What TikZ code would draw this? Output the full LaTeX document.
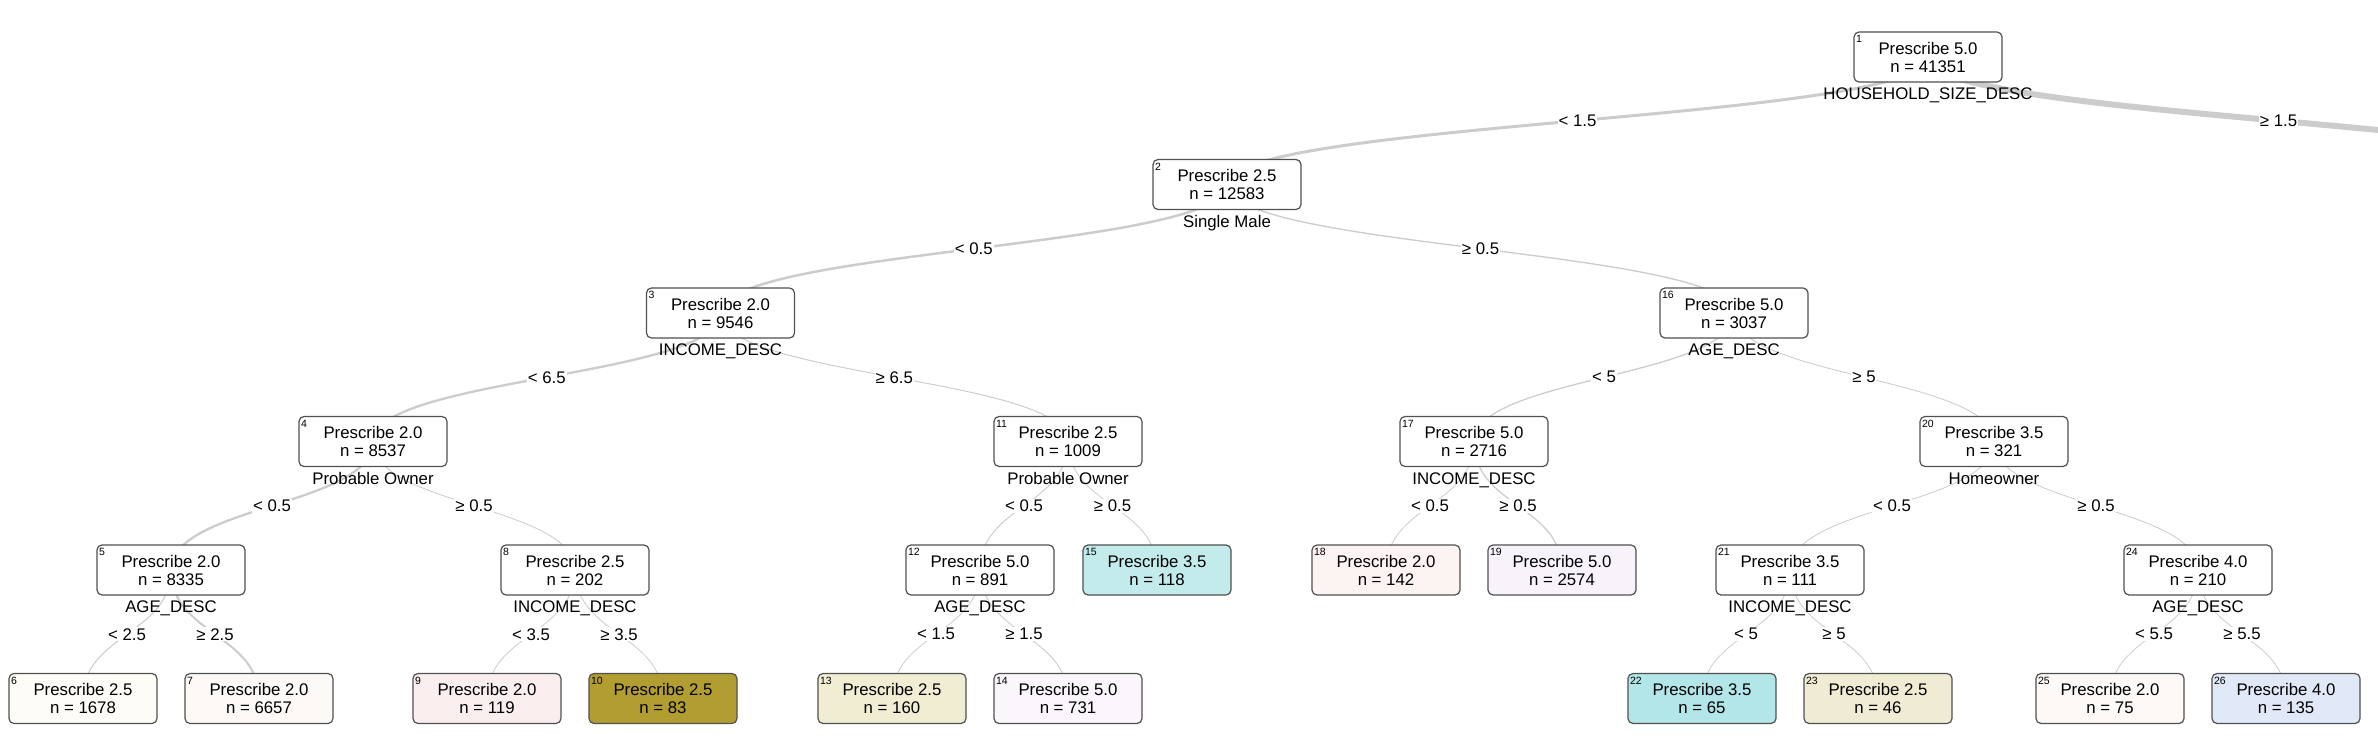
\documentclass[tikz,border=0pt]{standalone}
\usepackage{fontspec}
\setmainfont{Liberation Sans}
\usetikzlibrary{calc}
\pgfdeclarelayer{bg}
\pgfsetlayers{bg,main}
\definecolor{edgec}{RGB}{204,204,204}
\definecolor{boxc}{RGB}{80,80,80}
\definecolor{c6}{RGB}{253,252,246}
\definecolor{c7}{RGB}{253,249,247}
\definecolor{c9}{RGB}{251,238,239}
\definecolor{c10}{RGB}{178,158,48}
\definecolor{c13}{RGB}{240,237,211}
\definecolor{c14}{RGB}{251,245,252}
\definecolor{c15}{RGB}{195,235,236}
\definecolor{c18}{RGB}{252,244,242}
\definecolor{c19}{RGB}{248,243,251}
\definecolor{c22}{RGB}{178,230,232}
\definecolor{c23}{RGB}{240,236,212}
\definecolor{c25}{RGB}{253,249,247}
\definecolor{c26}{RGB}{225,233,249}
\tikzset{
  tbox/.style={rectangle, rounded corners=5pt, draw=boxc, line width=1.2pt,
    minimum width=148pt, minimum height=50pt, inner sep=0pt, align=center,
    font=\fontsize{16.8pt}{18pt}\selectfont},
  idl/.style={anchor=north west, inner sep=0pt, font=\fontsize{10.5pt}{10.5pt}\selectfont},
  varl/.style={anchor=base, inner sep=0pt, font=\fontsize{16.8pt}{18pt}\selectfont},
  elab/.style={fill=white, inner sep=1pt, font=\fontsize{16.8pt}{18pt}\selectfont},
  edgesty/.style={draw=edgec, line cap=round}
}
\newcommand\tnode[7]{%
  \node[tbox, fill=#4] (#1) at (#2,#3) {Prescribe #6\\n = #7};
  \node[idl] (id#1) at ([xshift=2.5pt,yshift=-4pt]#1.north west) {#5};}
\newcommand\tvar[2]{\node[varl] (v#1) at ([yshift=-17pt]#1.south) {#2};}
\newcommand\tedge[4]{%
  \draw[edgesty, line width=#3pt] (#1.center)
    .. controls ($(#1.center)!0.5!(#1.center|-#2.center)$)
    and ($(#2.center)!0.5!(#2.center|-#1.center)$) .. (#2.center)
    node[elab, pos=0.5] {#4};}
\begin{document}
\begin{tikzpicture}[x=1pt,y=-1pt]
\useasboundingbox (0,0) rectangle (2378,738);
% nodes
\tnode{n1}{1928}{57}{white}{1}{5.0}{41351}
\tnode{n2}{1227}{184.5}{white}{2}{2.5}{12583}
\tnode{n3}{720.5}{313}{white}{3}{2.0}{9546}
\tnode{n16}{1734}{313}{white}{16}{5.0}{3037}
\tnode{n4}{373}{441.5}{white}{4}{2.0}{8537}
\tnode{n11}{1068}{441.5}{white}{11}{2.5}{1009}
\tnode{n17}{1474}{441.5}{white}{17}{5.0}{2716}
\tnode{n20}{1994}{441.5}{white}{20}{3.5}{321}
\tnode{n5}{171}{570}{white}{5}{2.0}{8335}
\tnode{n8}{575}{570}{white}{8}{2.5}{202}
\tnode{n12}{980}{570}{white}{12}{5.0}{891}
\tnode{n15}{1157}{570}{c15}{15}{3.5}{118}
\tnode{n18}{1386}{570}{c18}{18}{2.0}{142}
\tnode{n19}{1562}{570}{c19}{19}{5.0}{2574}
\tnode{n21}{1790}{570}{white}{21}{3.5}{111}
\tnode{n24}{2198}{570}{white}{24}{4.0}{210}
\tnode{n6}{83}{698.5}{c6}{6}{2.5}{1678}
\tnode{n7}{259}{698.5}{c7}{7}{2.0}{6657}
\tnode{n9}{487}{698.5}{c9}{9}{2.0}{119}
\tnode{n10}{663}{698.5}{c10}{10}{2.5}{83}
\tnode{n13}{892}{698.5}{c13}{13}{2.5}{160}
\tnode{n14}{1068}{698.5}{c14}{14}{5.0}{731}
\tnode{n22}{1702}{698.5}{c22}{22}{3.5}{65}
\tnode{n23}{1878}{698.5}{c23}{23}{2.5}{46}
\tnode{n25}{2110}{698.5}{c25}{25}{2.0}{75}
\tnode{n26}{2286}{698.5}{c26}{26}{4.0}{135}
\coordinate (r) at (2629,184.5);
% split variables
\tvar{n1}{HOUSEHOLD\_SIZE\_DESC}
\tvar{n2}{Single Male}
\tvar{n3}{INCOME\_DESC}
\tvar{n16}{AGE\_DESC}
\tvar{n4}{Probable Owner}
\tvar{n11}{Probable Owner}
\tvar{n17}{INCOME\_DESC}
\tvar{n20}{Homeowner}
\tvar{n5}{AGE\_DESC}
\tvar{n8}{INCOME\_DESC}
\tvar{n12}{AGE\_DESC}
\tvar{n21}{INCOME\_DESC}
\tvar{n24}{AGE\_DESC}
% edges
\begin{pgfonlayer}{bg}
\clip (0,0) rectangle (2378,738);
\tedge{n1}{n2}{3.0}{< 1.5}
\tedge{n1}{r}{6.0}{≥ 1.5}
\tedge{n2}{n3}{2.5}{< 0.5}
\tedge{n2}{n16}{1.35}{≥ 0.5}
\tedge{n3}{n4}{2.34}{< 6.5}
\tedge{n3}{n11}{0.98}{≥ 6.5}
\tedge{n4}{n5}{2.3}{< 0.5}
\tedge{n4}{n8}{0.84}{≥ 0.5}
\tedge{n5}{n6}{1.1}{< 2.5}
\tedge{n5}{n7}{2.0}{≥ 2.5}
\tedge{n8}{n9}{0.82}{< 3.5}
\tedge{n8}{n10}{0.82}{≥ 3.5}
\tedge{n11}{n12}{0.96}{< 0.5}
\tedge{n11}{n15}{0.82}{≥ 0.5}
\tedge{n12}{n13}{0.83}{< 1.5}
\tedge{n12}{n14}{0.93}{≥ 1.5}
\tedge{n16}{n17}{1.29}{< 5}
\tedge{n16}{n20}{0.86}{≥ 5}
\tedge{n17}{n18}{0.83}{< 0.5}
\tedge{n17}{n19}{1.26}{≥ 0.5}
\tedge{n20}{n21}{0.82}{< 0.5}
\tedge{n20}{n24}{0.84}{≥ 0.5}
\tedge{n21}{n22}{0.81}{< 5}
\tedge{n21}{n23}{0.81}{≥ 5}
\tedge{n24}{n25}{0.81}{< 5.5}
\tedge{n24}{n26}{0.82}{≥ 5.5}
\end{pgfonlayer}
\end{tikzpicture}
\end{document}
